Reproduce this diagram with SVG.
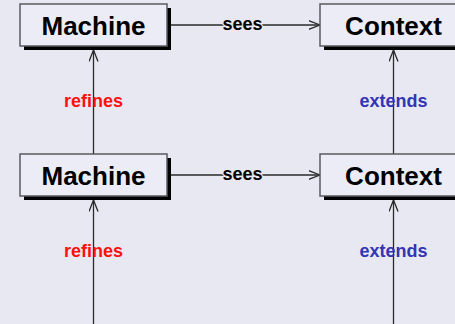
<svg xmlns="http://www.w3.org/2000/svg" width="455" height="324" viewBox="0 0 455 324">
  <style>
    .bg { fill: #e8e8f2; }
    .shadow { fill: #000000; }
    .box { fill: #ececf6; stroke: #5a5a60; stroke-width: 1.5; }
    .name { font-family: "Liberation Sans", Arial, sans-serif; font-weight: bold; font-size: 26px; fill: #000000; text-anchor: middle; }
    .edge { stroke: #2a2a2a; stroke-width: 1.3; fill: none; }
    .lbl { font-family: "Liberation Sans", Arial, sans-serif; font-weight: bold; font-size: 18px; text-anchor: middle; }
    .sees { fill: #000000; stroke: #e8e8f2; stroke-width: 2.5; paint-order: stroke; stroke-linejoin: round; }
    .refines { fill: #ff1010; }
    .extends { fill: #3434b4; }
  </style>
  <defs>
    <marker id="open" viewBox="0 0 12 10" refX="11.5" refY="5" markerWidth="12" markerHeight="10" markerUnits="userSpaceOnUse" orient="auto">
      <path d="M0,0.5 L11.5,5 L0,9.5" fill="none" stroke="#2a2a2a" stroke-width="1.3"/>
    </marker>
  </defs>

  <rect class="bg" x="0" y="0" width="455" height="324"/>

  <!-- connectors -->
  <g id="connectors">
    <line class="edge" x1="171" y1="25" x2="320" y2="25" marker-end="url(#open)"/>
    <line class="edge" x1="171" y1="175" x2="320" y2="175" marker-end="url(#open)"/>
    <line class="edge" x1="93.5" y1="154" x2="93.5" y2="50" marker-end="url(#open)"/>
    <line class="edge" x1="93.5" y1="324" x2="93.5" y2="200" marker-end="url(#open)"/>
    <line class="edge" x1="393.5" y1="154" x2="393.5" y2="50" marker-end="url(#open)"/>
    <line class="edge" x1="393.5" y1="324" x2="393.5" y2="200" marker-end="url(#open)"/>
    <text class="lbl sees" x="242.5" y="30">sees</text>
    <text class="lbl sees" x="242.5" y="180">sees</text>
    <text class="lbl refines" x="93.5" y="107">refines</text>
    <text class="lbl refines" x="93.5" y="257">refines</text>
    <text class="lbl extends" x="393.5" y="107">extends</text>
    <text class="lbl extends" x="393.5" y="257">extends</text>
  </g>

  <!-- nodes -->
  <g id="machine-top">
    <rect class="shadow" x="24" y="8" width="147" height="42"/>
    <rect class="box" x="20" y="4" width="147" height="42"/>
    <text class="name" x="93.5" y="35">Machine</text>
  </g>
  <g id="context-top">
    <rect class="shadow" x="324" y="8" width="147" height="42"/>
    <rect class="box" x="320" y="4" width="147" height="42"/>
    <text class="name" x="393.5" y="35">Context</text>
  </g>
  <g id="machine-bottom">
    <rect class="shadow" x="24" y="158" width="147" height="42"/>
    <rect class="box" x="20" y="154" width="147" height="42"/>
    <text class="name" x="93.5" y="185">Machine</text>
  </g>
  <g id="context-bottom">
    <rect class="shadow" x="324" y="158" width="147" height="42"/>
    <rect class="box" x="320" y="154" width="147" height="42"/>
    <text class="name" x="393.5" y="185">Context</text>
  </g>
</svg>
